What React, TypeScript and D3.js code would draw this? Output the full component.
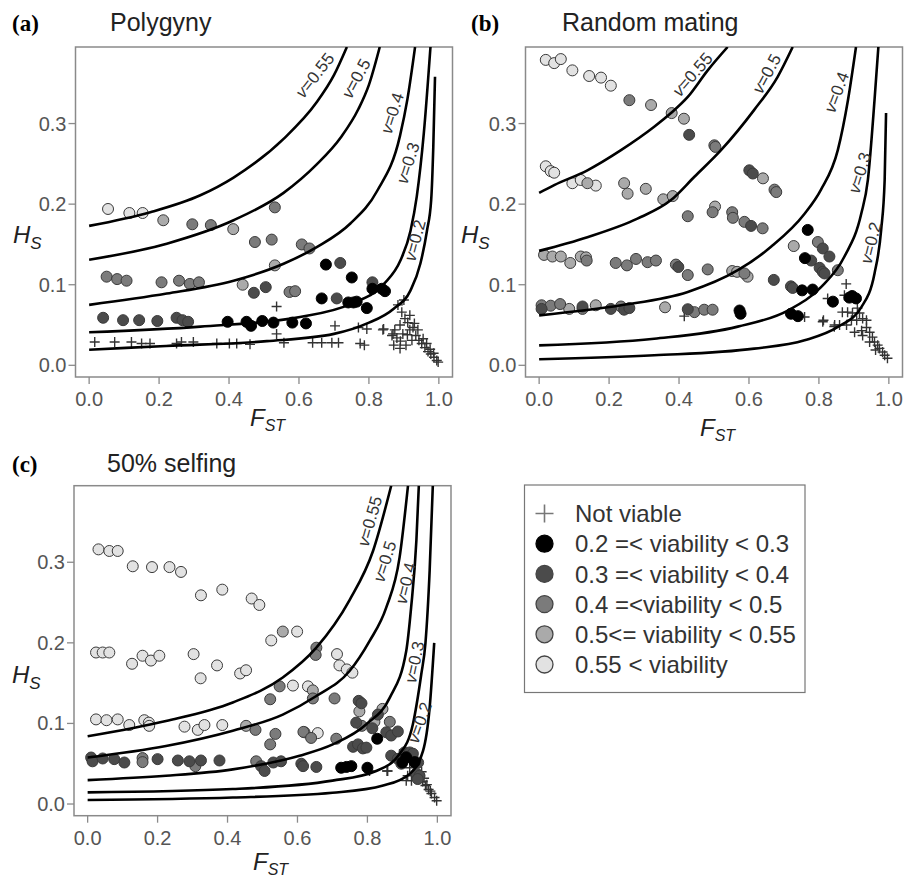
import React from 'react'
import * as d3 from 'd3'

// axes
const xTicks = [0, 0.2, 0.4, 0.6, 0.8, 1.0]
const yTicks = [0, 0.1, 0.2, 0.3]

// legend classes (index 0 = not viable)
const classLabels = ['Not viable', '0.2 =< viability < 0.3', '0.3 =< viability < 0.4', '0.4 =<viability < 0.5', '0.5<= viability < 0.55', '0.55 < viability']
const classFill = ['none', '#000000', '#4b4b4b', '#7b7b7b', '#aaaaaa', '#e2e2e2']
const curveNames = ['0.55', '0.5', '0.4', '0.3', '0.2']

// ---- (a) Polygyny ----
const polyV055 = [[0, 0.173], [0.175, 0.19], [0.318, 0.211], [0.413, 0.233], [0.556, 0.281], [0.65, 0.326], [0.7, 0.36], [0.737, 0.395]]
const polyV05 = [[0, 0.131], [0.222, 0.151], [0.413, 0.18], [0.556, 0.214], [0.65, 0.249], [0.72, 0.283], [0.77, 0.318], [0.8, 0.348], [0.831, 0.395]]
const polyV04 = [[0, 0.075], [0.222, 0.089], [0.413, 0.105], [0.556, 0.126], [0.652, 0.147], [0.747, 0.176], [0.823, 0.216], [0.889, 0.285], [0.91, 0.33], [0.932, 0.395]]
const polyV03 = [[0, 0.041], [0.318, 0.048], [0.603, 0.06], [0.747, 0.076], [0.843, 0.101], [0.89, 0.13], [0.919, 0.167], [0.937, 0.21], [0.957, 0.288], [0.976, 0.395]]
const polyV02 = [[0, 0.0194], [0.22, 0.024], [0.508, 0.03], [0.7, 0.039], [0.795, 0.052], [0.87, 0.07], [0.919, 0.093], [0.947, 0.126], [0.966, 0.167], [0.978, 0.205], [0.984, 0.27], [0.989, 0.358]]
const polyLabels = [[0.645, 0.36, -52], [0.763, 0.356, -62], [0.866, 0.313, -72], [0.911, 0.251, -72], [0.931, 0.155, -75]]
const polyPts = [
  [0.054, 0.194, 5], [0.115, 0.189, 5], [0.153, 0.189, 5],
  [0.212, 0.18, 4], [0.412, 0.169, 4], [0.531, 0.124, 4], [0.439, 0.1, 4],
  [0.295, 0.175, 3], [0.348, 0.174, 3], [0.474, 0.153, 3], [0.522, 0.156, 3], [0.531, 0.196, 3], [0.608, 0.15, 3], [0.63, 0.145, 3],
  [0.05, 0.11, 3], [0.08, 0.107, 3], [0.107, 0.105, 3], [0.207, 0.103, 3], [0.257, 0.105, 3], [0.288, 0.101, 3], [0.314, 0.103, 3], [0.573, 0.091, 3], [0.589, 0.092, 3],
  [0.471, 0.09, 2], [0.505, 0.097, 2], [0.718, 0.127, 2], [0.708, 0.083, 2], [0.81, 0.103, 2],
  [0.04, 0.059, 2], [0.097, 0.056, 2], [0.143, 0.056, 2], [0.195, 0.055, 2], [0.25, 0.059, 2], [0.267, 0.056, 2], [0.283, 0.054, 2],
  [0.677, 0.125, 1], [0.665, 0.083, 1], [0.751, 0.109, 1], [0.741, 0.078, 1], [0.756, 0.078, 1], [0.765, 0.079, 1], [0.794, 0.071, 1], [0.81, 0.095, 1], [0.837, 0.095, 1], [0.846, 0.092, 1],
  [0.396, 0.054, 1], [0.45, 0.054, 1], [0.463, 0.049, 1], [0.495, 0.055, 1], [0.527, 0.053, 1], [0.581, 0.053, 1], [0.62, 0.052, 1],
]
const polyCross = [
  [0.016, 0.029], [0.073, 0.029], [0.121, 0.029], [0.15, 0.027], [0.174, 0.027], [0.25, 0.027], [0.264, 0.029], [0.298, 0.029], [0.365, 0.027], [0.401, 0.027], [0.422, 0.027], [0.46, 0.026],
  [0.536, 0.073], [0.536, 0.039], [0.557, 0.028], [0.639, 0.028], [0.665, 0.028], [0.694, 0.028], [0.713, 0.028], [0.703, 0.049], [0.77, 0.047], [0.794, 0.045], [0.775, 0.027], [0.787, 0.025], [0.842, 0.045],
  [0.883, 0.075], [0.894, 0.066], [0.903, 0.058], [0.911, 0.053], [0.889, 0.05], [0.874, 0.044], [0.866, 0.037], [0.88, 0.034], [0.897, 0.039], [0.917, 0.044], [0.926, 0.047],
  [0.934, 0.037], [0.943, 0.031], [0.951, 0.027], [0.96, 0.022], [0.969, 0.017], [0.977, 0.014], [0.986, 0.01], [0.994, 0.006], [0.998, 0.004], [0.923, 0.031], [0.906, 0.025],
  [0.889, 0.021], [0.871, 0.025], [0.94, 0.044], [0.917, 0.062], [0.9, 0.081], [0.84, 0.044], [0.869, 0.039], [0.955, 0.033], [0.965, 0.027], [0.975, 0.02], [0.985, 0.015], [0.93, 0.052], [0.91, 0.038], [0.89, 0.03],
]

// ---- (b) Random mating ----
const randV055 = [[0, 0.214], [0.043, 0.2236], [0.138, 0.242], [0.234, 0.267], [0.329, 0.296], [0.377, 0.313], [0.425, 0.333], [0.482, 0.366], [0.539, 0.395]]
const randV05 = [[0, 0.142], [0.138, 0.159], [0.281, 0.182], [0.377, 0.205], [0.444, 0.234], [0.52, 0.267], [0.615, 0.317], [0.682, 0.358], [0.725, 0.395]]
const randV04 = [[0, 0.062], [0.234, 0.0745], [0.425, 0.091], [0.568, 0.118], [0.663, 0.147], [0.759, 0.188], [0.806, 0.218], [0.854, 0.267], [0.883, 0.329], [0.906, 0.395]]
const randV03 = [[0, 0.0248], [0.329, 0.033], [0.568, 0.048], [0.711, 0.068], [0.806, 0.097], [0.873, 0.135], [0.921, 0.188], [0.94, 0.23], [0.959, 0.329], [0.97, 0.395]]
const randV02 = [[0, 0.0075], [0.329, 0.0124], [0.615, 0.0207], [0.759, 0.031], [0.854, 0.0476], [0.921, 0.072], [0.959, 0.114], [0.978, 0.168], [0.988, 0.23], [0.992, 0.313]]
const randLabels = [[0.438, 0.361, -49], [0.65, 0.362, -62], [0.85, 0.339, -69], [0.916, 0.239, -73], [0.948, 0.152, -76]]
const randPts = [
  [0.019, 0.379, 5], [0.043, 0.375, 5], [0.062, 0.38, 5], [0.095, 0.366, 5], [0.143, 0.359, 5], [0.177, 0.357, 5], [0.205, 0.347, 5],
  [0.019, 0.247, 5], [0.033, 0.241, 5], [0.043, 0.239, 5], [0.095, 0.226, 5], [0.119, 0.23, 5], [0.162, 0.223, 5],
  [0.32, 0.323, 4], [0.379, 0.313, 4], [0.414, 0.306, 4], [0.138, 0.226, 4], [0.243, 0.226, 4], [0.253, 0.213, 4], [0.305, 0.219, 4], [0.355, 0.206, 4], [0.382, 0.21, 4],
  [0.503, 0.197, 4], [0.64, 0.232, 4], [0.014, 0.137, 4], [0.038, 0.135, 4], [0.062, 0.135, 4], [0.119, 0.135, 4], [0.134, 0.134, 4], [0.089, 0.127, 4],
  [0.552, 0.117, 4], [0.566, 0.116, 4], [0.596, 0.11, 4], [0.086, 0.07, 4], [0.162, 0.0745, 4], [0.36, 0.072, 4], [0.728, 0.148, 4],
  [0.258, 0.329, 3], [0.501, 0.273, 3], [0.504, 0.271, 3], [0.673, 0.218, 3], [0.678, 0.215, 3], [0.425, 0.185, 3], [0.496, 0.19, 3], [0.552, 0.19, 3], [0.554, 0.183, 3],
  [0.587, 0.178, 3], [0.639, 0.17, 3], [0.136, 0.13, 3], [0.219, 0.127, 3], [0.251, 0.124, 3], [0.277, 0.132, 3], [0.31, 0.128, 3], [0.334, 0.13, 3], [0.391, 0.125, 3],
  [0.425, 0.112, 3], [0.482, 0.119, 3], [0.587, 0.114, 3], [0.797, 0.153, 3], [0.854, 0.118, 3], [0.007, 0.0745, 3], [0.033, 0.074, 3], [0.06, 0.076, 3], [0.124, 0.07, 3],
  [0.234, 0.073, 3], [0.444, 0.066, 3], [0.472, 0.069, 3], [0.496, 0.069, 3],
  [0.429, 0.286, 2], [0.601, 0.242, 2], [0.611, 0.238, 2], [0.606, 0.173, 2], [0.398, 0.122, 2], [0.671, 0.106, 2], [0.72, 0.098, 2], [0.725, 0.096, 2], [0.811, 0.145, 2],
  [0.83, 0.135, 2], [0.778, 0.13, 2], [0.802, 0.121, 2], [0.811, 0.116, 2], [0.816, 0.114, 2], [0.007, 0.07, 2], [0.124, 0.073, 2], [0.205, 0.07, 2], [0.243, 0.069, 2],
  [0.258, 0.071, 2], [0.425, 0.0696, 2],
  [0.768, 0.168, 1], [0.76, 0.133, 1], [0.752, 0.093, 1], [0.782, 0.094, 1], [0.573, 0.068, 1], [0.576, 0.064, 1], [0.72, 0.064, 1], [0.74, 0.061, 1], [0.84, 0.079, 1],
  [0.887, 0.084, 1], [0.906, 0.083, 1], [0.895, 0.086, 1],
]
const randCross = [
  [0.415, 0.061], [0.759, 0.06], [0.811, 0.054], [0.844, 0.048], [0.825, 0.083], [0.896, 0.085],
  [0.878, 0.101], [0.873, 0.087], [0.867, 0.066], [0.882, 0.066], [0.896, 0.065], [0.91, 0.071], [0.916, 0.065], [0.813, 0.056], [0.845, 0.05], [0.859, 0.05],
  [0.879, 0.05], [0.893, 0.056], [0.908, 0.056], [0.925, 0.058], [0.936, 0.056], [0.902, 0.041], [0.922, 0.043], [0.936, 0.047], [0.945, 0.041], [0.953, 0.035],
  [0.959, 0.029], [0.968, 0.025], [0.973, 0.021], [0.982, 0.0165], [0.988, 0.0124], [0.996, 0.0087], [0.925, 0.037], [0.945, 0.029], [0.962, 0.019],
]

// ---- (c) 50% selfing ----
const selfV055 = [[0, 0.084], [0.224, 0.103], [0.415, 0.126], [0.558, 0.157], [0.654, 0.194], [0.749, 0.253], [0.816, 0.314], [0.868, 0.395]]
const selfV05 = [[0, 0.0577], [0.224, 0.072], [0.415, 0.091], [0.558, 0.111], [0.654, 0.134], [0.749, 0.165], [0.806, 0.202], [0.854, 0.244], [0.892, 0.306], [0.916, 0.395]]
const selfV04 = [[0, 0.0297], [0.224, 0.035], [0.415, 0.043], [0.606, 0.06], [0.701, 0.074], [0.797, 0.099], [0.864, 0.132], [0.911, 0.19], [0.925, 0.244], [0.94, 0.327], [0.947, 0.395]]
const selfV03 = [[0, 0.0144], [0.415, 0.0186], [0.7, 0.029], [0.825, 0.041], [0.892, 0.062], [0.93, 0.099], [0.954, 0.161], [0.966, 0.2], [0.978, 0.29], [0.987, 0.395]]
const selfV02 = [[0, 0.005], [0.415, 0.008], [0.7, 0.014], [0.845, 0.023], [0.92, 0.037], [0.959, 0.066], [0.978, 0.12], [0.991, 0.2]]
const selfLabels = [[0.806, 0.351, -74], [0.849, 0.301, -72], [0.909, 0.274, -76], [0.934, 0.176, -78], [0.949, 0.101, -70]]
const selfPts = [
  [0.031, 0.316, 5], [0.062, 0.314, 5], [0.086, 0.314, 5], [0.129, 0.295, 5], [0.184, 0.294, 5], [0.234, 0.294, 5], [0.267, 0.288, 5], [0.324, 0.259, 5], [0.385, 0.266, 5],
  [0.469, 0.255, 5], [0.491, 0.247, 5], [0.525, 0.203, 5], [0.599, 0.214, 5], [0.713, 0.186, 5], [0.024, 0.188, 5], [0.043, 0.188, 5], [0.062, 0.188, 5], [0.127, 0.174, 5],
  [0.157, 0.184, 5], [0.181, 0.178, 5], [0.205, 0.184, 5], [0.303, 0.186, 5], [0.323, 0.156, 5], [0.37, 0.172, 5], [0.436, 0.162, 5], [0.453, 0.166, 5], [0.72, 0.172, 5],
  [0.741, 0.167, 5], [0.757, 0.163, 5], [0.587, 0.147, 5], [0.63, 0.146, 5], [0.024, 0.105, 5], [0.054, 0.104, 5], [0.086, 0.105, 5], [0.119, 0.098, 5], [0.162, 0.104, 5],
  [0.175, 0.101, 5], [0.176, 0.097, 5], [0.277, 0.096, 5], [0.315, 0.092, 5], [0.334, 0.098, 5], [0.385, 0.098, 5], [0.658, 0.088, 5],
  [0.558, 0.214, 4], [0.644, 0.141, 4], [0.777, 0.115, 4], [0.843, 0.118, 4], [0.82, 0.102, 4], [0.453, 0.097, 4], [0.62, 0.089, 4],
  [0.654, 0.194, 3], [0.652, 0.185, 3], [0.549, 0.146, 3], [0.522, 0.13, 3], [0.644, 0.131, 3], [0.706, 0.131, 3], [0.784, 0.097, 3], [0.864, 0.102, 3], [0.48, 0.092, 3],
  [0.537, 0.087, 3], [0.522, 0.074, 3], [0.617, 0.0895, 3], [0.639, 0.082, 3], [0.711, 0.081, 3], [0.157, 0.057, 3], [0.157, 0.052, 3], [0.308, 0.047, 3], [0.482, 0.053, 3],
  [0.775, 0.128, 2], [0.783, 0.125, 2], [0.83, 0.111, 2], [0.768, 0.101, 2], [0.814, 0.094, 2], [0.854, 0.089, 2], [0.868, 0.085, 2], [0.887, 0.09, 2], [0.01, 0.0577, 2],
  [0.014, 0.053, 2], [0.043, 0.0565, 2], [0.076, 0.0557, 2], [0.105, 0.0515, 2], [0.2, 0.0557, 2], [0.258, 0.054, 2], [0.291, 0.053, 2], [0.324, 0.054, 2], [0.377, 0.054, 2],
  [0.496, 0.047, 2], [0.506, 0.041, 2], [0.531, 0.0515, 2], [0.553, 0.053, 2], [0.611, 0.05, 2], [0.616, 0.047, 2], [0.654, 0.046, 2], [0.759, 0.071, 2], [0.773, 0.074, 2],
  [0.787, 0.069, 2], [0.797, 0.07, 2], [0.868, 0.06, 2], [0.887, 0.056, 2], [0.906, 0.064, 2], [0.921, 0.064, 2], [0.93, 0.0625, 2], [0.897, 0.05, 2], [0.945, 0.0515, 2],
  [0.94, 0.038, 2], [0.949, 0.035, 2], [0.944, 0.031, 2],
  [0.828, 0.081, 1], [0.911, 0.058, 1], [0.935, 0.052, 1], [0.9, 0.0515, 1], [0.725, 0.045, 1], [0.74, 0.046, 1], [0.754, 0.047, 1], [0.8, 0.045, 1],
]
const selfCross = [
  [0.806, 0.041], [0.856, 0.041], [0.858, 0.041], [0.892, 0.062], [0.921, 0.045], [0.921, 0.052], [0.915, 0.035], [0.926, 0.029], [0.911, 0.029],
  [0.949, 0.033], [0.958, 0.028], [0.966, 0.023], [0.975, 0.018], [0.983, 0.013], [0.992, 0.008], [0.998, 0.004], [0.955, 0.04], [0.962, 0.032], [0.97, 0.024], [0.98, 0.016],
]

const panels = [
  { ox: 75.5, oy: 47, tag: '(a)', tagX: 12, title: 'Polygyny', titleX: 110, titleY: 31, hsX: 13, hsY: 243, fstX: 250, fstY: 426,
    curves: [polyV055, polyV05, polyV04, polyV03, polyV02], labels: polyLabels, pts: polyPts, cross: polyCross },
  { ox: 525.5, oy: 47, tag: '(b)', tagX: 471, title: 'Random mating', titleX: 562, titleY: 31, hsX: 461, hsY: 243, fstX: 700, fstY: 436,
    curves: [randV055, randV05, randV04, randV03, randV02], labels: randLabels, pts: randPts, cross: randCross },
  { ox: 74, oy: 485.7, tag: '(c)', tagX: 12, title: '50% selfing', titleX: 107, titleY: 472, hsX: 12, hsY: 683, fstX: 253, fstY: 870,
    curves: [selfV055, selfV05, selfV04, selfV03, selfV02], labels: selfLabels, pts: selfPts, cross: selfCross },
]

const PW = 377
const PH = 330
const sans = 'Liberation Sans, Arial, Helvetica, sans-serif'
const narrow = 'Liberation Sans Narrow, Arial Narrow, Liberation Sans, Arial, sans-serif'
const axisCol = '#8a8a8a'

const x = d3.scaleLinear().domain([-0.039, 1.039]).range([0, PW])
const y = d3.scaleLinear().domain([-0.0145, 0.395]).range([PH, 0])
const line = d3.line<number[]>().x(d => x(d[0])).y(d => y(d[1])).curve(d3.curveMonotoneX)
const crossPath = 'M-5,0H5M0,-5V5'

function Panel({ p, i }: { p: any; i: number }) {
  return (
    <g>
      <text x={p.tagX} y={p.titleY} fontFamily="Liberation Serif, Times New Roman, serif" fontWeight="bold" fontSize={23}>{p.tag}</text>
      <text x={p.titleX} y={p.titleY} fontFamily={sans} fontSize={25} fill="#222">{p.title}</text>
      <text x={p.hsX} y={p.hsY} fontFamily={sans} fontStyle="italic" fontSize={24} fill="#222">H<tspan fontSize={17} dy={6}>S</tspan></text>
      <text x={p.fstX} y={p.fstY} fontFamily={sans} fontStyle="italic" fontSize={24} fill="#222">F<tspan fontSize={16} dy={5}>ST</tspan></text>
      <g transform={`translate(${p.ox},${p.oy})`}>
        <defs>
          <clipPath id={`clip${i}`}><rect x={0} y={0} width={PW} height={PH} /></clipPath>
        </defs>
        <rect x={0} y={0} width={PW} height={PH} fill="white" stroke={axisCol} strokeWidth={1.5} />
        {xTicks.map(t => (
          <g key={t} transform={`translate(${x(t)},${PH})`}>
            <line y1={0} y2={7} stroke={axisCol} strokeWidth={1.3} />
            <text y={29} textAnchor="middle" fontFamily={narrow} fontSize={20} fill="#555">{d3.format('.1f')(t)}</text>
          </g>
        ))}
        {yTicks.map(t => (
          <g key={t} transform={`translate(0,${y(t)})`}>
            <line x1={0} x2={-7} stroke={axisCol} strokeWidth={1.3} />
            <text x={-9} dy="0.35em" textAnchor="end" fontFamily={narrow} fontSize={20} fill="#555">{d3.format('.1f')(t)}</text>
          </g>
        ))}
        <g clipPath={`url(#clip${i})`}>
          {p.cross.map((d: number[], k: number) => (
            <path key={'c' + k} d={crossPath} transform={`translate(${x(d[0])},${y(d[1])})`} stroke="#333" strokeWidth={1.4} fill="none" />
          ))}
          {p.pts.map((d: number[], k: number) => (
            <circle key={'p' + k} cx={x(d[0])} cy={y(d[1])} r={5.5} fill={classFill[d[2]]} stroke={d[2] === 1 ? '#000' : '#3a3a3a'} strokeWidth={1} />
          ))}
          {p.curves.map((c: number[][], k: number) => (
            <path key={'l' + k} d={line(c) || ''} fill="none" stroke="#000" strokeWidth={2.6} />
          ))}
        </g>
        {p.labels.map((l: number[], k: number) => (
          <text key={'t' + k} transform={`translate(${x(l[0])},${y(l[1])}) rotate(${l[2]})`} textAnchor="middle" dy="0.35em"
            fontFamily={sans} fontSize={17} fill="#333">
            <tspan fontStyle="italic">v</tspan>={curveNames[k]}
          </text>
        ))}
      </g>
    </g>
  )
}

function Legend() {
  const rowY = d3.scaleLinear().domain([0, 5]).range([513.5, 664.5])
  return (
    <g>
      <rect x={524.5} y={485} width={280.5} height={207.5} fill="white" stroke="#777" strokeWidth={1.2} />
      {classLabels.map((lab, k) => (
        <g key={lab} transform={`translate(544.5,${rowY(k)})`}>
          {k === 0
            ? <path d="M-9,0H9M0,-9V9" stroke="#777" strokeWidth={1.6} fill="none" />
            : <circle r={8.5} fill={classFill[k]} stroke={k === 1 ? '#000' : '#444'} strokeWidth={1.3} />}
          <text x={30.5} dy="0.36em" fontFamily={sans} fontSize={24} fill="#333">{lab}</text>
        </g>
      ))}
    </g>
  )
}

export default function App() {
  return (
    <svg width={909} height={882} style={{ display: 'block', position: 'absolute', left: 0, top: 0, background: 'white' }}>
      <rect width={909} height={882} fill="white" />
      {panels.map((p, i) => <Panel key={i} p={p} i={i} />)}
      <Legend />
    </svg>
  )
}
